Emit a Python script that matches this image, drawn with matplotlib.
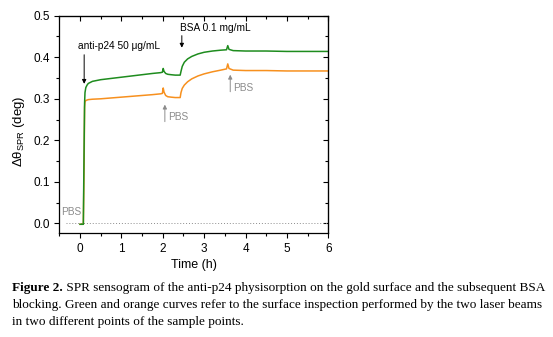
import matplotlib
matplotlib.use('Agg')
import matplotlib.pyplot as plt
from matplotlib.ticker import MultipleLocator

plt.rcParams['font.family'] = ['Liberation Sans', 'DejaVu Sans']
plt.rcParams['mathtext.default'] = 'regular'

# SPR angle shift read from the two laser spots
time_h = [0.00, 0.08, 0.10, 0.11, 0.12, 0.14, 0.17, 0.20, 0.30, 0.50, 0.75, 1.00,
          1.25, 1.50, 1.75, 1.95, 1.99, 2.01, 2.03, 2.07, 2.12, 2.20, 2.30, 2.42,
          2.44, 2.47, 2.52, 2.60, 2.70, 2.85, 3.00, 3.20, 3.40, 3.54, 3.57, 3.60,
          3.70, 4.00, 4.50, 5.00, 5.50, 6.00]
green = [-0.002, -0.002, 0.200, 0.290, 0.315, 0.327, 0.333, 0.337, 0.342, 0.346, 0.349, 0.352,
         0.355, 0.358, 0.361, 0.363, 0.364, 0.373, 0.366, 0.361, 0.359, 0.358, 0.357, 0.357,
         0.366, 0.378, 0.388, 0.396, 0.402, 0.408, 0.412, 0.415, 0.417, 0.418, 0.428, 0.419,
         0.416, 0.415, 0.415, 0.414, 0.414, 0.414]
orange = [-0.002, -0.002, 0.150, 0.280, 0.292, 0.296, 0.297, 0.298, 0.299, 0.300, 0.302, 0.304,
          0.306, 0.308, 0.310, 0.312, 0.313, 0.326, 0.316, 0.308, 0.305, 0.304, 0.303, 0.303,
          0.315, 0.325, 0.333, 0.341, 0.348, 0.355, 0.360, 0.365, 0.369, 0.372, 0.384, 0.373,
          0.369, 0.368, 0.368, 0.367, 0.367, 0.367]

caption = [
    ('Figure 2.', ' SPR sensogram of the anti-p24 physisorption on the gold surface and the subsequent BSA'),
    ('', 'blocking. Green and orange curves refer to the surface inspection performed by the two laser beams'),
    ('', 'in two different points of the sample points.'),
]

fig = plt.figure(figsize=(5.53, 3.37), dpi=100)
ax = fig.add_axes([0.1073, 0.3086, 0.4864, 0.6448])

ax.plot([-0.35, 6], [0, 0], ls=(0, (1, 2)), color='#8c8c8c', lw=0.7)
ax.plot(time_h, orange, color='#F7901E', lw=1.1)
ax.plot(time_h, green, color='#1E8C1E', lw=1.1)

ax.set_xlim(-0.5, 6)
ax.set_ylim(-0.023, 0.5)
ax.xaxis.set_major_locator(MultipleLocator(1))
ax.xaxis.set_minor_locator(MultipleLocator(0.5))
ax.yaxis.set_major_locator(MultipleLocator(0.1))
ax.yaxis.set_minor_locator(MultipleLocator(0.05))
ax.yaxis.set_major_formatter(plt.FormatStrFormatter('%.1f'))
ax.tick_params(which='both', direction='out', top=False, right=False, labelsize=8.5, width=0.8)
ax.tick_params(which='major', length=3.5)
ax.tick_params(which='minor', length=2)
for sp in ax.spines.values():
    sp.set_linewidth(0.9)

# inward ticks on the top and right edges
ax_t = ax.secondary_xaxis('top')
ax_t.xaxis.set_major_locator(MultipleLocator(1))
ax_t.xaxis.set_minor_locator(MultipleLocator(0.5))
ax_t.tick_params(which='both', direction='in', labeltop=False, width=0.8)
ax_t.tick_params(which='major', length=3.5)
ax_t.tick_params(which='minor', length=2)
ax_r = ax.secondary_yaxis('right')
ax_r.yaxis.set_major_locator(MultipleLocator(0.1))
ax_r.yaxis.set_minor_locator(MultipleLocator(0.05))
ax_r.tick_params(which='both', direction='in', labelright=False, width=0.8)
ax_r.tick_params(which='major', length=3.5)
ax_r.tick_params(which='minor', length=2)

ax.set_xlabel('Time (h)', fontsize=9, labelpad=3)
ax.set_ylabel('Δθ$_{SPR}$ (deg)', fontsize=9.5)
ax.yaxis.set_label_coords(-0.12, 0.47)

arr = dict(arrowstyle='-|>', lw=0.7, mutation_scale=6, shrinkA=0, shrinkB=0)
ax.annotate('', xy=(0.10, 0.336), xytext=(0.10, 0.406), arrowprops=dict(arr, color='black'))
ax.text(-0.05, 0.428, 'anti-p24 50 μg/mL', fontsize=7.3, va='center')
ax.annotate('', xy=(2.46, 0.423), xytext=(2.46, 0.452), arrowprops=dict(arr, color='black'))
ax.text(2.42, 0.471, 'BSA 0.1 mg/mL', fontsize=7.3, va='center')

gray = '#8c8c8c'
ax.annotate('', xy=(2.05, 0.286), xytext=(2.05, 0.245), arrowprops=dict(arr, color=gray))
ax.text(2.14, 0.257, 'PBS', fontsize=7.3, va='center', color=gray)
ax.annotate('', xy=(3.63, 0.358), xytext=(3.63, 0.317), arrowprops=dict(arr, color=gray))
ax.text(3.71, 0.327, 'PBS', fontsize=7.3, va='center', color=gray)
ax.text(-0.45, 0.028, 'PBS', fontsize=7.3, va='center', color=gray)

# caption under the plot, bold lead-in followed by plain text
renderer = fig.canvas.get_renderer()
y0 = 1 - 288 / 337
for i, (bold, rest) in enumerate(caption):
    y = y0 - i * 17 / 337
    x = 12 / 553
    if bold:
        t = fig.text(x, y, bold, fontsize=9.5, fontweight='bold', va='center', family='Liberation Serif')
        bb = t.get_window_extent(renderer)
        x = bb.x1 / fig.bbox.width
    fig.text(x, y, rest, fontsize=9.5, va='center', family='Liberation Serif')

fig.savefig('out.png', dpi=100)
